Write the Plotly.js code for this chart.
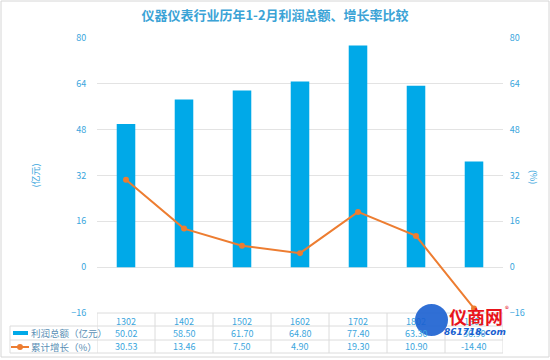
<!DOCTYPE html>
<html><head><meta charset="utf-8">
<script src="https://cdn.plot.ly/plotly-3.0.1.min.js"></script>
<style>html,body{margin:0;padding:0;background:#fff;}</style>
</head><body>
<div id="chart" style="width:550px;height:360px;"></div>
<script>
const categories = ["1302","1402","1502","1602","1702","1802","1902"];
const profit = [50.02, 58.50, 61.70, 64.80, 77.40, 63.30, 36.90];
const growth = [30.53, 13.46, 7.50, 4.90, 19.30, 10.90, -14.40];
const profitName = "利润总额（亿元）";
const growthName = "累计增长（%）";
const yTicks = [-16, 0, 16, 32, 48, 64, 80];

const W = 550, H = 360;
const L = 97, R = 503, T = 38, B = 313;
const pw = R - L, ph = B - T;
const px = v => (v - L) / pw;
const py = v => (B - v) / ph;

const blue = "#00a9e8", orange = "#ed7d31", txt = "#3aa6dd", grid = "#e3e3e3", tline = "#dcdcdc";
const font = "Noto Sans CJK SC, Noto Sans, sans-serif";

const traces = [
  {type:"bar", x:categories, y:profit, name:profitName, marker:{color:blue}, width:0.32, hoverinfo:"skip"},
  {type:"scatter", mode:"lines+markers", x:categories, y:growth, yaxis:"y2", name:growthName,
   line:{color:orange, width:2}, marker:{color:orange, size:6}, hoverinfo:"skip"}
];

const rowY = [326, 340, 353];
const shapes = [];
shapes.push({type:"rect", xref:"paper", yref:"paper", x0:px(1), x1:px(549), y0:py(357), y1:py(1), line:{color:"#d6d6d6", width:1}, layer:"below"});
shapes.push({type:"line", xref:"paper", yref:"paper", x0:0, x1:1, y0:py(313), y1:py(313), line:{color:tline, width:1}});
rowY.forEach(r => shapes.push({type:"line", xref:"paper", yref:"paper", x0:px(10), x1:1, y0:py(r), y1:py(r), line:{color:tline, width:1}}));
shapes.push({type:"line", xref:"paper", yref:"paper", x0:px(10), x1:px(10), y0:py(326), y1:py(353), line:{color:tline, width:1}});
for (let i = 0; i <= categories.length; i++) {
  shapes.push({type:"line", xref:"x", yref:"paper", x0:i-0.5, x1:i-0.5, y0:py(313), y1:py(353), line:{color:tline, width:1}});
}
shapes.push({type:"rect", xref:"paper", yref:"paper", x0:px(13), x1:px(28), y0:py(335), y1:py(331), fillcolor:blue, line:{width:0}});
shapes.push({type:"line", xref:"paper", yref:"paper", x0:px(11), x1:px(29), y0:py(347), y1:py(347), line:{color:orange, width:2}});
shapes.push({type:"circle", xref:"paper", yref:"paper", x0:px(17), x1:px(23), y0:py(350), y1:py(344), fillcolor:orange, line:{width:0}});
shapes.push({type:"circle", xref:"paper", yref:"paper", x0:px(415), x1:px(448), y0:py(336), y1:py(304), fillcolor:"#1a5fd0", line:{width:0}, opacity:0.9});

const annotations = [];
categories.forEach((c, i) => {
  annotations.push({xref:"x", yref:"paper", x:i, y:py(333), xanchor:"center", yanchor:"middle", text:profit[i].toFixed(2), showarrow:false, font:{family:font, size:9, color:txt}});
  annotations.push({xref:"x", yref:"paper", x:i, y:py(346.5), xanchor:"center", yanchor:"middle", text:growth[i].toFixed(2), showarrow:false, font:{family:font, size:9, color:txt}});
});
annotations.push({xref:"paper", yref:"paper", x:px(29), y:py(333), xanchor:"left", yanchor:"middle", text:profitName, showarrow:false, font:{family:font, size:9.5, color:"#5a8fb5"}});
annotations.push({xref:"paper", yref:"paper", x:px(29), y:py(346.5), xanchor:"left", yanchor:"middle", text:growthName, showarrow:false, font:{family:font, size:9.5, color:"#5a8fb5"}});
annotations.push({xref:"paper", yref:"paper", x:px(447), y:py(316), xanchor:"left", yanchor:"middle", text:"<b>仪商网</b>", showarrow:false, font:{family:font, size:18, color:"#e8141b"}});
annotations.push({xref:"paper", yref:"paper", x:px(503), y:py(308), xanchor:"left", yanchor:"middle", text:"®", showarrow:false, font:{family:font, size:8, color:"#e8141b"}});
annotations.push({xref:"paper", yref:"paper", x:px(442), y:py(332), xanchor:"left", yanchor:"middle", text:"<b><i>861718.com</i></b>", showarrow:false, font:{family:"DejaVu Sans", size:9, color:"#1a5fd0"}});
// right axis title
annotations.push({xref:"paper", yref:"paper", x:px(533), y:py(177), xanchor:"center", yanchor:"middle", textangle:90, text:"(%)", showarrow:false, font:{family:font, size:9, color:txt}});

const axisCommon = {range:[-16,80], tickvals:yTicks, showgrid:true, gridcolor:grid, zeroline:false,
  showline:false, ticks:"outside", ticklen:8, tickcolor:"rgba(0,0,0,0)",
  tickfont:{family:font, size:9, color:txt}};

const layout = {
  width:W, height:H,
  margin:{l:L, r:W-R, t:T, b:H-B, pad:0},
  paper_bgcolor:"#fff", plot_bgcolor:"#fff",
  showlegend:false,
  title:{text:"<b>仪器仪表行业历年1-2月利润总额、增长率比较</b>", x:0.5, xanchor:"center", y:1-15/H, yanchor:"middle",
    font:{family:font, size:13, color:"#3ba3d6"}},
  xaxis:{type:"category", categories:categories, showgrid:false, zeroline:false, showline:false,
    ticks:"outside", ticklen:0, tickcolor:"rgba(0,0,0,0)", tickfont:{family:font, size:9, color:txt}, range:[-0.5,6.5]},
  yaxis:Object.assign({}, axisCommon, {title:{text:"(亿元)", standoff:30, font:{family:font, size:9, color:txt}}}),
  yaxis2:Object.assign({}, axisCommon, {overlaying:"y", side:"right", showgrid:false, ticklen:4}),
  shapes:shapes,
  annotations:annotations
};
Plotly.newPlot("chart", traces, layout, {staticPlot:true, displayModeBar:false});
</script>
</body></html>
